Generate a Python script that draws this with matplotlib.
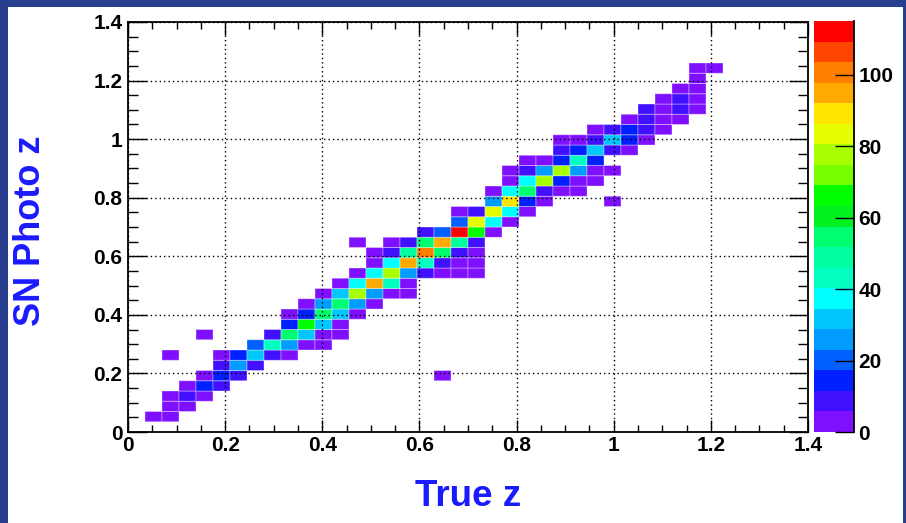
import numpy as np
import matplotlib
matplotlib.use("Agg")
import matplotlib.pyplot as plt
from matplotlib.colors import ListedColormap, BoundaryNorm
from matplotlib.patches import Rectangle
from matplotlib.ticker import MultipleLocator, FuncFormatter

plt.rcParams['font.family'] = ['Liberation Sans', 'DejaVu Sans']
plt.rcParams['font.weight'] = 'bold'

# bin centres (true z, photo z) and counts
true_z = [
    0.0525, 0.0875,
    0.0875, 0.1225,
    0.0875, 0.1225, 0.1575,
    0.1225, 0.1575, 0.1925,
    0.1575, 0.1925, 0.2275, 0.6475,
    0.1925, 0.2275, 0.2625,
    0.0875, 0.1925, 0.2275, 0.2625, 0.2975, 0.3325,
    0.2625, 0.2975, 0.3325, 0.3675, 0.4025,
    0.1575, 0.2975, 0.3325, 0.3675, 0.4025, 0.4375,
    0.3325, 0.3675, 0.4025, 0.4375,
    0.3325, 0.3675, 0.4025, 0.4375, 0.4725,
    0.3675, 0.4025, 0.4375, 0.4725, 0.5075,
    0.4025, 0.4375, 0.4725, 0.5075, 0.5425, 0.5775,
    0.4375, 0.4725, 0.5075, 0.5425, 0.5775,
    0.4725, 0.5075, 0.5425, 0.5775, 0.6125, 0.6475, 0.6825, 0.7175,
    0.5075, 0.5425, 0.5775, 0.6125, 0.6475, 0.6825, 0.7175,
    0.5075, 0.5425, 0.5775, 0.6125, 0.6475, 0.6825, 0.7175,
    0.4725, 0.5425, 0.5775, 0.6125, 0.6475, 0.6825, 0.7175,
    0.6125, 0.6475, 0.6825, 0.7175, 0.7525,
    0.6825, 0.7175, 0.7525, 0.7875,
    0.6825, 0.7175, 0.7525, 0.7875, 0.8225,
    0.7525, 0.7875, 0.8225, 0.8575, 0.9975,
    0.7525, 0.7875, 0.8225, 0.8575, 0.8925, 0.9275,
    0.7875, 0.8225, 0.8575, 0.8925, 0.9275, 0.9625,
    0.7875, 0.8225, 0.8575, 0.8925, 0.9275, 0.9625, 0.9975,
    0.8225, 0.8575, 0.8925, 0.9275, 0.9625,
    0.8925, 0.9275, 0.9625, 0.9975, 1.0325,
    0.8925, 0.9275, 0.9625, 0.9975, 1.0325, 1.0675,
    0.9625, 0.9975, 1.0325, 1.0675, 1.1025,
    1.0325, 1.0675, 1.1025, 1.1375,
    1.0675, 1.1025, 1.1375, 1.1725,
    1.1025, 1.1375, 1.1725,
    1.1375, 1.1725,
    1.1725,
    1.1725, 1.2075,
]
photo_z = (
    [0.0525] * 2 + [0.0875] * 2 + [0.1225] * 3 + [0.1575] * 3 + [0.1925] * 4
    + [0.2275] * 3 + [0.2625] * 6 + [0.2975] * 5 + [0.3325] * 6 + [0.3675] * 4
    + [0.4025] * 5 + [0.4375] * 5 + [0.4725] * 6 + [0.5075] * 5 + [0.5425] * 8
    + [0.5775] * 7 + [0.6125] * 7 + [0.6475] * 7 + [0.6825] * 5 + [0.7175] * 4
    + [0.7525] * 5 + [0.7875] * 5 + [0.8225] * 6 + [0.8575] * 6 + [0.8925] * 7
    + [0.9275] * 5 + [0.9625] * 5 + [0.9975] * 6 + [1.0325] * 5 + [1.0675] * 4
    + [1.1025] * 4 + [1.1375] * 3 + [1.1725] * 2 + [1.2075] * 1 + [1.2425] * 2
)
counts = [
    3, 3,
    3, 3,
    3, 8, 3,
    3, 14, 8,
    3, 14, 8, 3,
    8, 26, 8,
    3, 3, 14, 31, 8, 3,
    20, 43, 26, 3, 3,
    3, 8, 55, 31, 3, 3,
    14, 66, 31, 3,
    3, 14, 55, 31, 3,
    3, 26, 55, 26, 3,
    3, 31, 75, 26, 3, 3,
    3, 37, 95, 43, 3,
    3, 37, 78, 26, 8, 3, 3, 3,
    3, 37, 95, 43, 8, 3, 3,
    3, 8, 49, 101, 55, 8, 3,
    3, 3, 8, 55, 95, 49, 8,
    8, 20, 113, 66, 3,
    20, 83, 37, 3,
    3, 8, 83, 37, 3,
    26, 89, 14, 3, 3,
    3, 37, 55, 8, 3, 3,
    3, 37, 78, 14, 3, 3,
    3, 8, 26, 75, 26, 3, 3,
    3, 3, 14, 43, 14,
    8, 14, 31, 8, 3,
    3, 3, 8, 31, 14, 3,
    3, 8, 14, 8, 3,
    3, 8, 3, 3,
    8, 3, 8, 3,
    3, 8, 3,
    3, 3,
    3,
    3, 3,
]

palette = ['#7f10ff', '#4010ff', '#0020ff', '#0060ff', '#009cff', '#00c8ff',
           '#00ffff', '#00ffc0', '#00ffa0', '#00ff70', '#00f020', '#00ff00',
           '#78ff00', '#a8ff00', '#e6ff00', '#ffe600', '#ffaa00', '#ff8000',
           '#ff4500', '#ff0000']
zmax = 115

fig = plt.figure(figsize=(9.06, 5.23), dpi=100, facecolor='#283f8f')
fig.patches.append(Rectangle((8 / 906, 0), 895 / 906, 516 / 523,
                             transform=fig.transFigure, facecolor='white',
                             edgecolor='none', zorder=-1))

ax = fig.add_axes([128 / 906, 91 / 523, 680 / 906, 410 / 523])
cax = fig.add_axes([814 / 906, 91 / 523, 40 / 906, 411 / 523])

edges = np.linspace(0, 1.4, 41)
H, xe, ye = np.histogram2d(true_z, photo_z, bins=[edges, edges], weights=counts)
H = np.ma.masked_equal(H.T, 0)

cmap = ListedColormap(palette)
norm = BoundaryNorm(np.linspace(0, zmax, 21), cmap.N)
mesh = ax.pcolor(xe, ye, H, cmap=cmap, norm=norm,
                 edgecolors=(1, 1, 1, 0.35), linewidth=0.7)

ax.set_xlim(0, 1.4)
ax.set_ylim(0, 1.4)
fmt = FuncFormatter(lambda v, p: '%g' % round(v, 2))
for axis in (ax.xaxis, ax.yaxis):
    axis.set_major_locator(MultipleLocator(0.2))
    axis.set_minor_locator(MultipleLocator(0.05))
    axis.set_major_formatter(fmt)
ax.grid(True, which='major', color='black', linestyle=(0, (1, 2.2)), linewidth=1.0)
ax.tick_params(axis='both', which='both', direction='in', top=True, right=True,
               width=1.0, labelsize=15)
ax.tick_params(axis='x', which='major', length=9, pad=3)
ax.tick_params(axis='x', which='minor', length=5)
ax.tick_params(axis='y', which='major', length=14, pad=4)
ax.tick_params(axis='y', which='minor', length=7)
for s in ax.spines.values():
    s.set_linewidth(1.3)

cb = fig.colorbar(mesh, cax=cax, ticks=range(0, 101, 20))
cb.outline.set_visible(False)
cax.plot([1, 1], [0, 1], transform=cax.transAxes, color='black', lw=1.3, clip_on=False)
cax.tick_params(direction='in', length=14, width=1.0, labelsize=15, pad=3)
cax.minorticks_off()

fig.text(468 / 906, 1 - 497 / 523, 'True z', color='#1a1aff', fontsize=26.5,
         fontweight='bold', ha='center', va='center')
fig.text(30 / 906, 1 - 231 / 523, 'SN Photo z', color='#1a1aff', fontsize=26,
         fontweight='bold', ha='center', va='center', rotation=90)

fig.savefig('out.png', dpi=100, facecolor=fig.get_facecolor())
